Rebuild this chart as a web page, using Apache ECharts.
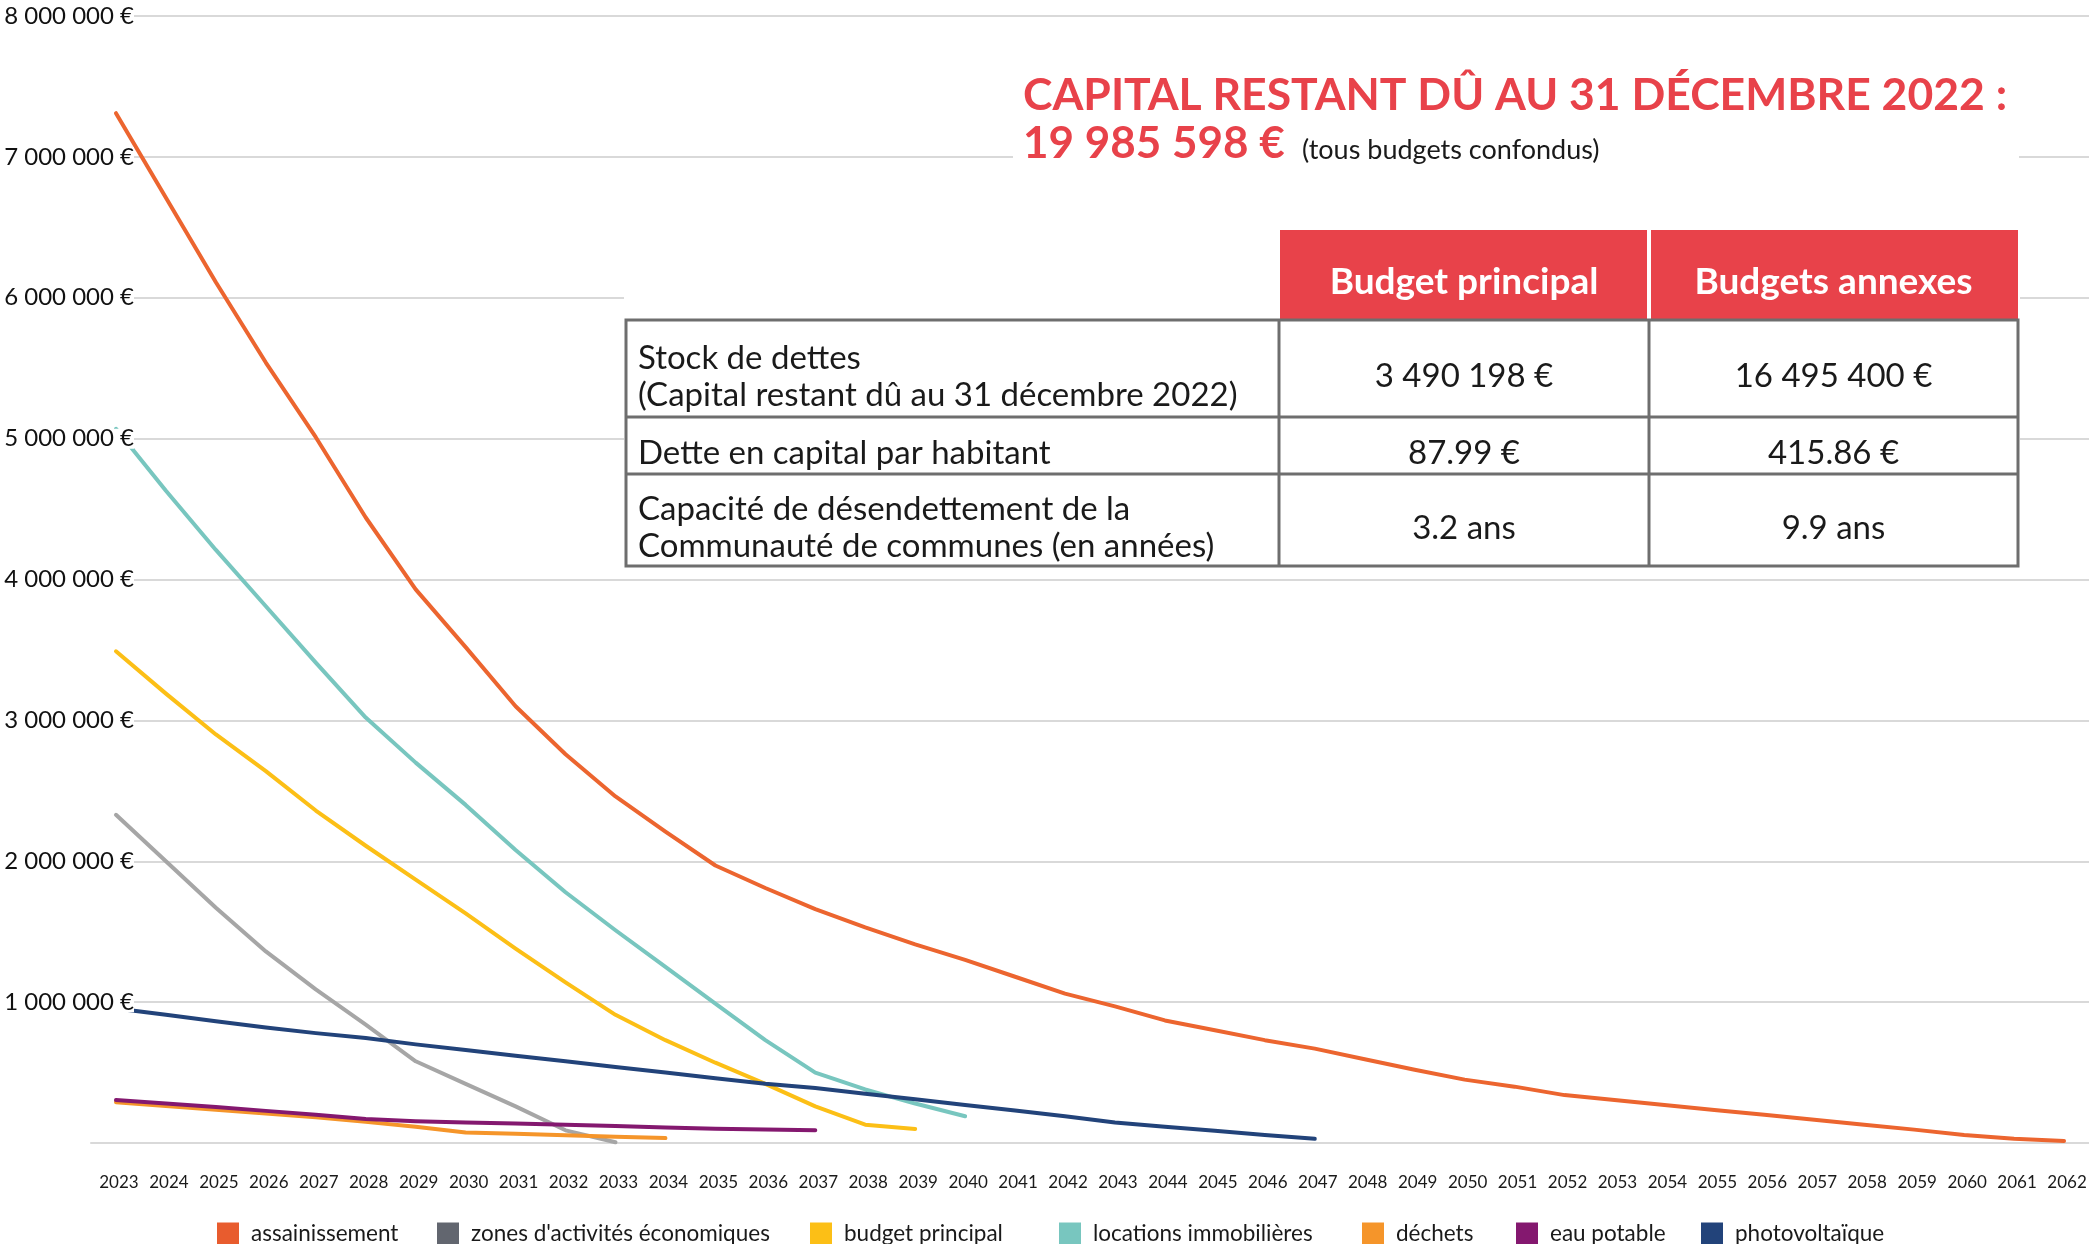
<!DOCTYPE html>
<html>
<head>
<meta charset="utf-8">
<title>Capital restant dû</title>
<script src="https://cdn.jsdelivr.net/npm/echarts@6/dist/echarts.min.js"></script>
<style>
  html, body { margin: 0; padding: 0; background: #fff; }
  #chart { width: 2089px; height: 1244px; }
</style>
</head>
<body>
<div id="chart"></div>
<script>
// années (axe x)
const years = ['2023', '2024', '2025', '2026', '2027', '2028', '2029', '2030', '2031', '2032',
  '2033', '2034', '2035', '2036', '2037', '2038', '2039', '2040', '2041', '2042',
  '2043', '2044', '2045', '2046', '2047', '2048', '2049', '2050', '2051', '2052',
  '2053', '2054', '2055', '2056', '2057', '2058', '2059', '2060', '2061', '2062']

// capital restant dû par budget (€)
const assainissement = [7310000, 6710000, 6110000, 5540000, 5010000, 4440000, 3930000, 3520000, 3100000, 2760000,
  2460000, 2210000, 1970000, 1810000, 1660000, 1530000, 1410000, 1300000, 1180000, 1060000,
  970000, 870000, 800000, 730000, 670000, 595000, 520000, 450000, 400000, 340000,
  305000, 270000, 235000, 200000, 165000, 130000, 95000, 57000, 30000, 14000]
const zones = [2330000, 2000000, 1670000, 1360000, 1090000, 840000, 580000, 420000, 260000, 90000, 5000]
const budgetPrincipal = [3490000, 3190000, 2900000, 2640000, 2360000, 2110000, 1870000, 1630000, 1380000, 1140000,
  910000, 730000, 570000, 420000, 260000, 130000, 100000]
const locations = [5070000, 4630000, 4210000, 3810000, 3410000, 3020000, 2700000, 2400000, 2080000, 1780000,
  1510000, 1250000, 990000, 730000, 500000, 380000, 280000, 190000]
const dechets = [290000, 262000, 236000, 210000, 182000, 150000, 115000, 75000, 65000, 55000, 45000, 35000]
const eauPotable = [305000, 280000, 255000, 228000, 200000, 170000, 155000, 145000, 138000, 130000,
  120000, 110000, 102000, 95000, 90000]
const photovoltaique = [955000, 910000, 865000, 820000, 780000, 745000, 700000, 660000, 620000, 580000,
  540000, 500000, 460000, 420000, 390000, 350000, 310000, 270000, 230000, 190000,
  145000, 115000, 87000, 57000, 30000]

const seriesNames = ['assainissement', "zones d'activités économiques", 'budget principal', 'locations immobilières',
  'déchets', 'eau potable', 'photovoltaïque']

// tableau
const tableHeader = ['Budget principal', 'Budgets annexes']
const tableLabels = [
  ['Stock de dettes', '(Capital restant dû au 31 décembre 2022)'],
  ['Dette en capital par habitant'],
  ['Capacité de désendettement de la', 'Communauté de communes (en années)']
]
const tablePrincipal = ['3 490 198 €', '87.99 €', '3.2 ans']
const tableAnnexes = ['16 495 400 €', '415.86 €', '9.9 ans']

const FONT = 'Lato, "Open Sans", sans-serif'
const RED = '#e8424a'

function euro (v) {
  if (v === 0) return ''
  return String(v).replace(/\B(?=(\d{3})+(?!\d))/g, ' ') + ' €'
}

function line (name, data, color, legendColor) {
  return {
    name: name,
    type: 'line',
    data: data,
    symbol: 'none',
    lineStyle: { color: color, width: 4, cap: 'round', join: 'round' },
    itemStyle: { color: legendColor || color },
    silent: true
  }
}

// légende : une entrée par composant pour caler chaque carré
const legendLeft = [217, 437, 810, 1059, 1362, 1516, 1701]
const legends = seriesNames.map((n, i) => ({
  data: [n],
  left: legendLeft[i],
  top: 1222,
  padding: 0,
  itemWidth: 22,
  itemHeight: 22,
  icon: 'rect',
  selectedMode: false,
  textStyle: { fontSize: 22.5, color: '#1a1a1a', fontFamily: FONT, padding: [0, 0, 0, 7] }
}))

// géométrie du tableau
const colX = [626, 1279, 1649, 2018]
const rowY = [320, 417, 474, 566]

const graphics = [
  // fonds blancs derrière le titre et le tableau
  { type: 'rect', z: 100, shape: { x: 1013, y: 40, width: 1006, height: 132 }, style: { fill: '#fff' } },
  { type: 'rect', z: 100, shape: { x: 624, y: 200, width: 1396, height: 370 }, style: { fill: '#fff' } },
  { type: 'text', z: 101, x: 1023, y: 96,
    style: { text: 'CAPITAL RESTANT DÛ AU 31 DÉCEMBRE 2022 :', font: 'bold 44.5px ' + FONT, fill: RED, textVerticalAlign: 'middle' } },
  { type: 'text', z: 101, x: 1023, y: 144,
    style: { text: '19 985 598 €', font: 'bold 44px ' + FONT, fill: RED, textVerticalAlign: 'middle' } },
  { type: 'text', z: 101, x: 1302, y: 150,
    style: { text: '(tous budgets confondus)', font: '27px ' + FONT, fill: '#1a1a1a', textVerticalAlign: 'middle' } },
  // en-têtes rouges
  { type: 'rect', z: 101, shape: { x: 1280, y: 230, width: 367, height: 90 }, style: { fill: RED } },
  { type: 'rect', z: 101, shape: { x: 1651, y: 230, width: 367, height: 90 }, style: { fill: RED } },
  // cadre
  { type: 'rect', z: 102, shape: { x: colX[0], y: rowY[0], width: colX[3] - colX[0], height: rowY[3] - rowY[0] },
    style: { fill: 'none', stroke: '#6e6e6e', lineWidth: 3 } }
]
rowY.slice(1, 3).forEach(y => {
  graphics.push({ type: 'line', z: 102, shape: { x1: colX[0], y1: y, x2: colX[3], y2: y }, style: { stroke: '#6e6e6e', lineWidth: 3 } })
})
colX.slice(1, 3).forEach(x => {
  graphics.push({ type: 'line', z: 102, shape: { x1: x, y1: rowY[0], x2: x, y2: rowY[3] }, style: { stroke: '#6e6e6e', lineWidth: 3 } })
})
tableHeader.forEach((t, i) => {
  graphics.push({ type: 'text', z: 103, x: (colX[i + 1] + colX[i + 2]) / 2, y: 282,
    style: { text: t, font: 'bold 37px ' + FONT, fill: '#fff', textAlign: 'center', textVerticalAlign: 'middle' } })
})
tableLabels.forEach((lines, r) => {
  const mid = (rowY[r] + rowY[r + 1]) / 2 + 8
  lines.forEach((t, k) => {
    const y = mid + (k - (lines.length - 1) / 2) * 37
    graphics.push({ type: 'text', z: 103, x: 638, y: y,
      style: { text: t, font: '33px ' + FONT, fill: '#1a1a1a', textVerticalAlign: 'middle' } })
  })
  graphics.push({ type: 'text', z: 103, x: (colX[1] + colX[2]) / 2, y: mid,
    style: { text: tablePrincipal[r], font: '33px ' + FONT, fill: '#1a1a1a', textAlign: 'center', textVerticalAlign: 'middle' } })
  graphics.push({ type: 'text', z: 103, x: (colX[2] + colX[3]) / 2, y: mid,
    style: { text: tableAnnexes[r], font: '33px ' + FONT, fill: '#1a1a1a', textAlign: 'center', textVerticalAlign: 'middle' } })
})

const chart = echarts.init(document.getElementById('chart'), null, { renderer: 'canvas' })
chart.setOption({
  animation: false,
  backgroundColor: '#fff',
  textStyle: { fontFamily: FONT },
  grid: { left: 91, right: 0, top: 16, bottom: 101, containLabel: false, outerBoundsMode: 'none' },
  legend: legends,
  xAxis: {
    type: 'category',
    data: years,
    boundaryGap: true,
    axisLine: { lineStyle: { color: '#d9d9d9', width: 2 } },
    axisTick: { show: false },
    axisLabel: { interval: 0, fontSize: 17, color: '#1a1a1a', margin: 31, padding: [0, 0, 0, 6] }
  },
  yAxis: [
    {
      type: 'value', position: 'left', min: 0, max: 8000000, interval: 1000000,
      axisLine: { show: false }, axisTick: { show: false }, axisLabel: { show: false },
      splitLine: { lineStyle: { color: '#d9d9d9', width: 2 } }
    },
    {
      // étiquettes par-dessus les courbes, sur fond blanc
      type: 'value', position: 'left', min: 0, max: 8000000, interval: 1000000, z: 20,
      axisLine: { show: false }, axisTick: { show: false }, splitLine: { show: false },
      axisLabel: {
        formatter: euro, fontSize: 24, lineHeight: 20, color: '#111', margin: -43,
        backgroundColor: '#fff', padding: [0, 0, 0, 6]
      }
    }
  ],
  series: [
    line(seriesNames[0], assainissement, '#ec652f', '#e85c2e'),
    line(seriesNames[1], zones, '#a6a6a6', '#62666f'),
    line(seriesNames[2], budgetPrincipal, '#fcbf16'),
    line(seriesNames[3], locations, '#78c6bf'),
    line(seriesNames[4], dechets, '#f5952a'),
    line(seriesNames[5], eauPotable, '#84186f'),
    line(seriesNames[6], photovoltaique, '#22437a')
  ],
  graphic: graphics
})
</script>
</body>
</html>
